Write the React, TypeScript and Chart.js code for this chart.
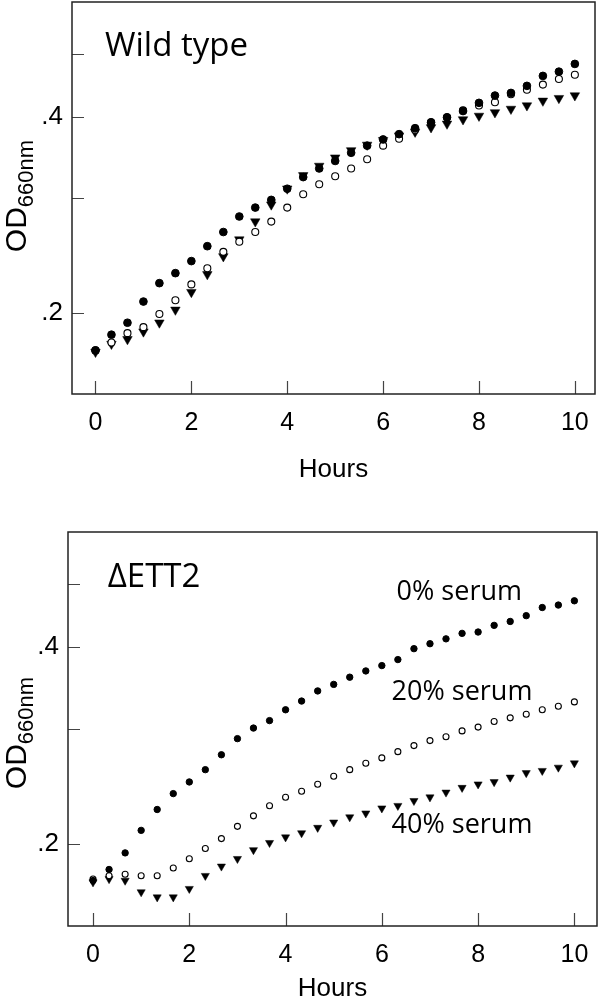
import React, { useEffect, useRef } from 'react';
import { Chart, registerables } from 'chart.js';

Chart.register(...registerables);

// ---- data ----
const HOURS = [0, 0.333, 0.667, 1, 1.333, 1.667, 2, 2.333, 2.667, 3, 3.333, 3.667, 4, 4.333, 4.667, 5, 5.333, 5.667, 6, 6.333, 6.667, 7, 7.333, 7.667, 8, 8.333, 8.667, 9, 9.333, 9.667, 10];

const X_TICKS = [0, 2, 4, 6, 8, 10];
const X_TICK_LABELS = ['0', '2', '4', '6', '8', '10'];
const Y_TICKS = [0.2, 0.3, 0.4, 0.5];
const Y_TICK_LABELS = ['.2', '', '.4', ''];

// Wild type
const WT_SERUM_0 = [0.175, 0.185, 0.193, 0.208, 0.222, 0.230, 0.240, 0.253, 0.266, 0.281, 0.290, 0.298, 0.310, 0.323, 0.333, 0.342, 0.352, 0.361, 0.369, 0.376, 0.384, 0.392, 0.399, 0.408, 0.420, 0.431, 0.435, 0.446, 0.462, 0.469, 0.482];
const WT_SERUM_20 = [0.175, 0.180, 0.186, 0.190, 0.199, 0.209, 0.221, 0.234, 0.248, 0.257, 0.266, 0.276, 0.290, 0.304, 0.315, 0.324, 0.333, 0.344, 0.361, 0.370, 0.382, 0.392, 0.399, 0.409, 0.416, 0.421, 0.433, 0.440, 0.448, 0.457, 0.464];
const WT_SERUM_40 = [0.174, 0.179, 0.182, 0.187, 0.193, 0.202, 0.215, 0.229, 0.244, 0.259, 0.276, 0.293, 0.310, 0.325, 0.336, 0.346, 0.355, 0.362, 0.368, 0.374, 0.379, 0.385, 0.390, 0.396, 0.401, 0.406, 0.411, 0.416, 0.423, 0.427, 0.431];

// ΔETT2
const ETT_SERUM_0 = [0.176, 0.183, 0.194, 0.210, 0.226, 0.239, 0.249, 0.260, 0.274, 0.290, 0.301, 0.309, 0.321, 0.331, 0.343, 0.351, 0.360, 0.368, 0.375, 0.383, 0.398, 0.405, 0.412, 0.420, 0.422, 0.432, 0.438, 0.447, 0.460, 0.464, 0.471];
const ETT_SERUM_20 = [0.177, 0.179, 0.180, 0.179, 0.179, 0.184, 0.190, 0.197, 0.204, 0.213, 0.221, 0.229, 0.236, 0.241, 0.247, 0.254, 0.260, 0.266, 0.271, 0.277, 0.283, 0.288, 0.292, 0.298, 0.302, 0.308, 0.312, 0.316, 0.321, 0.325, 0.330];
const ETT_SERUM_40 = [0.175, 0.177, 0.176, 0.169, 0.166, 0.166, 0.171, 0.179, 0.185, 0.190, 0.196, 0.201, 0.205, 0.208, 0.212, 0.216, 0.220, 0.223, 0.227, 0.229, 0.233, 0.236, 0.240, 0.244, 0.247, 0.249, 0.253, 0.257, 0.259, 0.262, 0.266];

const SERIES_LABELS = ['0% serum', '20% serum', '40% serum'];

// ---- styling ----
const SANS = '"Liberation Sans", Arial, sans-serif';
const HUMANIST = '"Open Sans", "Noto Sans", sans-serif';

type Kind = 'filled' | 'open' | 'tri';
type Note = { text: string; x: number; y: number };
type Spec = {
  height: number;
  padTop: number;
  padRight: number;
  yWidth: number;
  xHeight: number;
  xMin: number;
  xMax: number;
  title: string;
  titleX: number;
  titleY: number;
  hoursY: number;
  yLabelX: number;
  yLabelCenterShift: number;
  sizes: { filled: number; open: number; tri: number };
  series: { values: number[]; kind: Kind; label: string }[];
  notes: Note[];
};

const TOP: Spec = {
  height: 500,
  padTop: 2,
  padRight: 5,
  yWidth: 72,
  xHeight: 106,
  xMin: -0.49,
  xMax: 10.42,
  title: 'Wild type',
  titleX: 105,
  titleY: 56,
  hoursY: 477,
  yLabelX: 26,
  yLabelCenterShift: -2,
  sizes: { filled: 3.85, open: 3.5, tri: 5.5 },
  series: [
    { values: WT_SERUM_0, kind: 'filled', label: SERIES_LABELS[0] },
    { values: WT_SERUM_20, kind: 'open', label: SERIES_LABELS[1] },
    { values: WT_SERUM_40, kind: 'tri', label: SERIES_LABELS[2] },
  ],
  notes: [],
};

const BOTTOM: Spec = {
  height: 501,
  padTop: 32,
  padRight: 3,
  yWidth: 68,
  xHeight: 75,
  xMin: -0.52,
  xMax: 10.47,
  title: '\u0394ETT2',
  titleX: 107.7,
  titleY: 87.3,
  hoursY: 496,
  yLabelX: 26,
  yLabelCenterShift: 4,
  sizes: { filled: 3.2, open: 3.0, tri: 4.7 },
  series: [
    { values: ETT_SERUM_0, kind: 'filled', label: SERIES_LABELS[0] },
    { values: ETT_SERUM_20, kind: 'open', label: SERIES_LABELS[1] },
    { values: ETT_SERUM_40, kind: 'tri', label: SERIES_LABELS[2] },
  ],
  notes: [
    { text: SERIES_LABELS[0], x: 396.6, y: 100 },
    { text: SERIES_LABELS[1], x: 391.6, y: 200 },
    { text: SERIES_LABELS[2], x: 391.6, y: 332.7 },
  ],
};

function datasetFor(s: Spec['series'][number], sizes: Spec['sizes']) {
  const data = HOURS.map((h, i) => ({ x: h, y: s.values[i] }));
  if (s.kind === 'filled') {
    return { label: s.label, data, showLine: false, pointStyle: 'circle', pointRadius: sizes.filled, pointBackgroundColor: '#000', pointBorderColor: '#000', pointBorderWidth: 1 };
  }
  if (s.kind === 'open') {
    return { label: s.label, data, showLine: false, pointStyle: 'circle', pointRadius: sizes.open, pointBackgroundColor: '#fff', pointBorderColor: '#000', pointBorderWidth: 1.1 };
  }
  return { label: s.label, data, showLine: false, pointStyle: 'triangle', rotation: 180, pointRotation: 180, pointRadius: sizes.tri, pointBackgroundColor: '#000', pointBorderColor: '#000', pointBorderWidth: 0.5 };
}

function decorPlugin(spec: Spec) {
  return {
    id: 'decor',
    beforeDatasetsDraw(chart: any) {
      const { ctx, chartArea } = chart;
      const xs = chart.scales.x;
      const ys = chart.scales.y;
      ctx.save();
      // inward tick marks
      ctx.strokeStyle = '#444';
      ctx.lineWidth = 1.2;
      ctx.beginPath();
      X_TICKS.forEach((v) => {
        const px = Math.round(xs.getPixelForValue(v)) + 0.5;
        ctx.moveTo(px, chartArea.bottom);
        ctx.lineTo(px, chartArea.bottom - 13);
      });
      Y_TICKS.forEach((v) => {
        const py = Math.round(ys.getPixelForValue(v)) + 0.5;
        ctx.moveTo(chartArea.left, py);
        ctx.lineTo(chartArea.left + 12, py);
      });
      ctx.stroke();
      // frame
      ctx.strokeStyle = '#222';
      ctx.lineWidth = 1.5;
      ctx.strokeRect(chartArea.left, chartArea.top, chartArea.right - chartArea.left, chartArea.bottom - chartArea.top);
      ctx.restore();
    },
    afterDraw(chart: any) {
      const { ctx, chartArea } = chart;
      ctx.save();
      ctx.fillStyle = '#000';
      // panel title
      ctx.font = `33px ${HUMANIST}`;
      ctx.textAlign = 'left';
      ctx.textBaseline = 'alphabetic';
      ctx.fillText(spec.title, spec.titleX, spec.titleY);
      // notes
      ctx.font = `27px ${HUMANIST}`;
      spec.notes.forEach((n) => ctx.fillText(n.text, n.x, n.y));
      // x axis title
      ctx.font = `26px ${SANS}`;
      ctx.textAlign = 'center';
      ctx.fillText('Hours', (chartArea.left + chartArea.right) / 2, spec.hoursY);
      // y axis title: OD with subscript 660nm
      const main = 'OD';
      const sub = '660nm';
      ctx.font = `30px ${SANS}`;
      const wMain = ctx.measureText(main).width;
      ctx.font = `22px ${SANS}`;
      const wSub = ctx.measureText(sub).width;
      const total = wMain + wSub;
      const cy = (chartArea.top + chartArea.bottom) / 2 + spec.yLabelCenterShift;
      ctx.translate(spec.yLabelX, cy);
      ctx.rotate(-Math.PI / 2);
      ctx.textAlign = 'left';
      ctx.font = `30px ${SANS}`;
      ctx.fillText(main, -total / 2, 0);
      ctx.font = `22px ${SANS}`;
      ctx.fillText(sub, -total / 2 + wMain, 7);
      ctx.restore();
    },
  };
}

function Panel({ spec }: { spec: Spec }) {
  const ref = useRef<HTMLCanvasElement | null>(null);
  useEffect(() => {
    if (!ref.current) return;
    const chart = new Chart(ref.current, {
      type: 'scatter',
      data: { datasets: spec.series.map((s) => datasetFor(s, spec.sizes)) as any },
      options: {
        animation: false,
        responsive: false,
        devicePixelRatio: 1,
        events: [],
        layout: { autoPadding: false, padding: { top: spec.padTop, right: spec.padRight, left: 0, bottom: 0 } },
        plugins: { legend: { display: false }, tooltip: { enabled: false }, title: { display: false } },
        scales: {
          x: {
            type: 'linear',
            min: spec.xMin,
            max: spec.xMax,
            grid: { display: false, drawTicks: false },
            border: { display: false },
            afterBuildTicks: (s: any) => {
              s.ticks = X_TICKS.map((v) => ({ value: v }));
            },
            afterFit: (s: any) => {
              s.height = spec.xHeight;
              s.paddingLeft = 0;
              s.paddingRight = 0;
              s.paddingTop = 0;
              s.paddingBottom = 0;
            },
            ticks: {
              padding: 14,
              color: '#000',
              maxRotation: 0,
              autoSkip: false,
              font: { family: SANS, size: 25 },
              callback: (v: any) => {
                const i = X_TICKS.indexOf(Number(v));
                return i >= 0 ? X_TICK_LABELS[i] : '';
              },
            },
          },
          y: {
            type: 'logarithmic',
            min: 0.15,
            max: 0.6,
            grid: { display: false, drawTicks: false },
            border: { display: false },
            afterBuildTicks: (s: any) => {
              s.ticks = Y_TICKS.map((v) => ({ value: v }));
            },
            afterFit: (s: any) => {
              s.width = spec.yWidth;
              s.paddingLeft = 0;
              s.paddingRight = 0;
              s.paddingTop = 0;
              s.paddingBottom = 0;
            },
            ticks: {
              padding: 9,
              color: '#000',
              autoSkip: false,
              font: { family: SANS, size: 26 },
              callback: (v: any) => {
                const i = Y_TICKS.indexOf(Number(v));
                return i >= 0 ? Y_TICK_LABELS[i] : '';
              },
            },
          },
        },
      } as any,
      plugins: [decorPlugin(spec)],
    });
    return () => chart.destroy();
  }, [spec]);
  return <canvas ref={ref} width={600} height={spec.height} style={{ display: 'block', width: 600, height: spec.height }} />;
}

export default function App() {
  return (
    <div style={{ position: 'absolute', left: 0, top: 0, width: 600, height: 1001, background: '#fff', overflow: 'hidden' }}>
      <Panel spec={TOP} />
      <Panel spec={BOTTOM} />
    </div>
  );
}
